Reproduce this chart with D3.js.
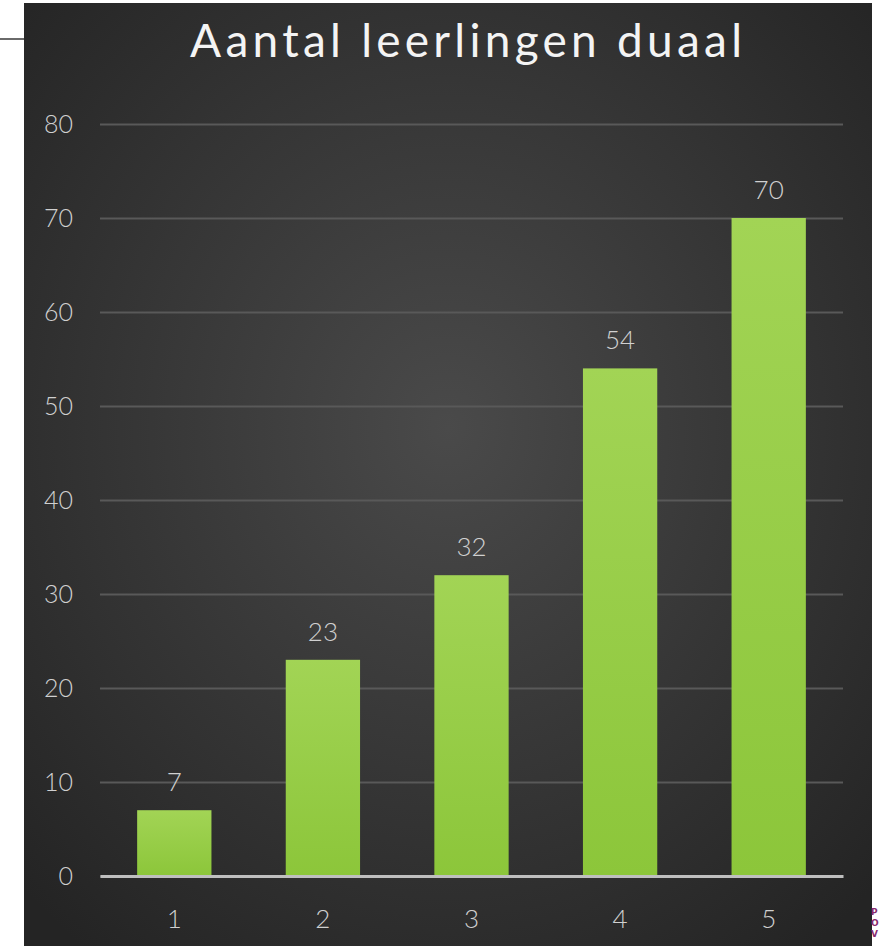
<!DOCTYPE html>
<html><head><meta charset="utf-8">
<script src="https://cdn.jsdelivr.net/npm/d3@7"></script>
<style>html,body{margin:0;padding:0;background:#fff;}svg{display:block;}</style>
</head><body>
<svg id="c" width="879" height="946"></svg>
<script>
const categories = ["1","2","3","4","5"];
const values = [7, 23, 32, 54, 70];
const yTicks = [0,10,20,30,40,50,60,70,80];
const title = "Aantal leerlingen duaal";

const svg = d3.select("#c");
const defs = svg.append("defs");
const bg = defs.append("radialGradient").attr("id","bg").attr("cx","50%").attr("cy","45%").attr("r","70%");
bg.append("stop").attr("offset","0%").attr("stop-color","#4a4a4a");
bg.append("stop").attr("offset","100%").attr("stop-color","#242424");
const bar = defs.append("linearGradient").attr("id","bar").attr("x1","0").attr("y1","0").attr("x2","0").attr("y2","1");
bar.append("stop").attr("offset","0%").attr("stop-color","#a2d455");
bar.append("stop").attr("offset","100%").attr("stop-color","#8cc63a");

// page decoration
svg.append("line").attr("x1",0).attr("x2",24).attr("y1",39).attr("y2",39).attr("stroke","#6a6a6a").attr("stroke-width",2);
svg.append("rect").attr("x",24).attr("y",3).attr("width",848).attr("height",943).attr("fill","url(#bg)");
["P","O","V"].forEach((t,i)=>svg.append("text").attr("x",871).attr("y",915+i*11).attr("font-family","DejaVu Sans").attr("font-weight","bold").attr("font-size",9).attr("fill","#8a2c6e").text(t));

const x = d3.scaleBand().domain(categories).range([100,843]).paddingInner(0.5).paddingOuter(0.25);
const y = d3.scaleLinear().domain([0,80]).range([876,124]);

svg.append("text").attr("x",466).attr("y",57).attr("text-anchor","middle")
  .attr("font-family","Lato").attr("font-weight",400).attr("font-size",46).attr("fill","#f4f4f4")
  .attr("textLength",552).attr("lengthAdjust","spacing").text(title);

const gy = svg.append("g").attr("transform","translate(100,0)")
  .call(d3.axisLeft(y).tickValues(yTicks).tickSize(-743).tickPadding(27));
gy.select(".domain").remove();
gy.selectAll(".tick line").attr("stroke","#595959").attr("stroke-width",2);
gy.selectAll(".tick text").attr("font-family","Lato").attr("font-weight",300).attr("font-size",25).attr("fill","#d0d0d0");

svg.selectAll("rect.bar").data(values).enter().append("rect").attr("class","bar")
  .attr("x",(d,i)=>x(categories[i])).attr("width",x.bandwidth())
  .attr("y",d=>y(d)).attr("height",d=>y(0)-y(d)).attr("fill","url(#bar)");

svg.selectAll("text.val").data(values).enter().append("text").attr("class","val")
  .attr("x",(d,i)=>x(categories[i])+x.bandwidth()/2).attr("y",d=>y(d)-19).attr("text-anchor","middle")
  .attr("font-family","Lato").attr("font-weight",300).attr("font-size",26).attr("fill","#d0d0d0").text(d=>d);

const gx = svg.append("g").attr("transform","translate(0,876)")
  .call(d3.axisBottom(x).tickSize(0).tickPadding(34));
gx.select(".domain").attr("stroke","#bfbfbf").attr("stroke-width",3);
gx.selectAll(".tick text").attr("font-family","Lato").attr("font-weight",300).attr("font-size",26).attr("fill","#d0d0d0");
</script>
</body></html>
